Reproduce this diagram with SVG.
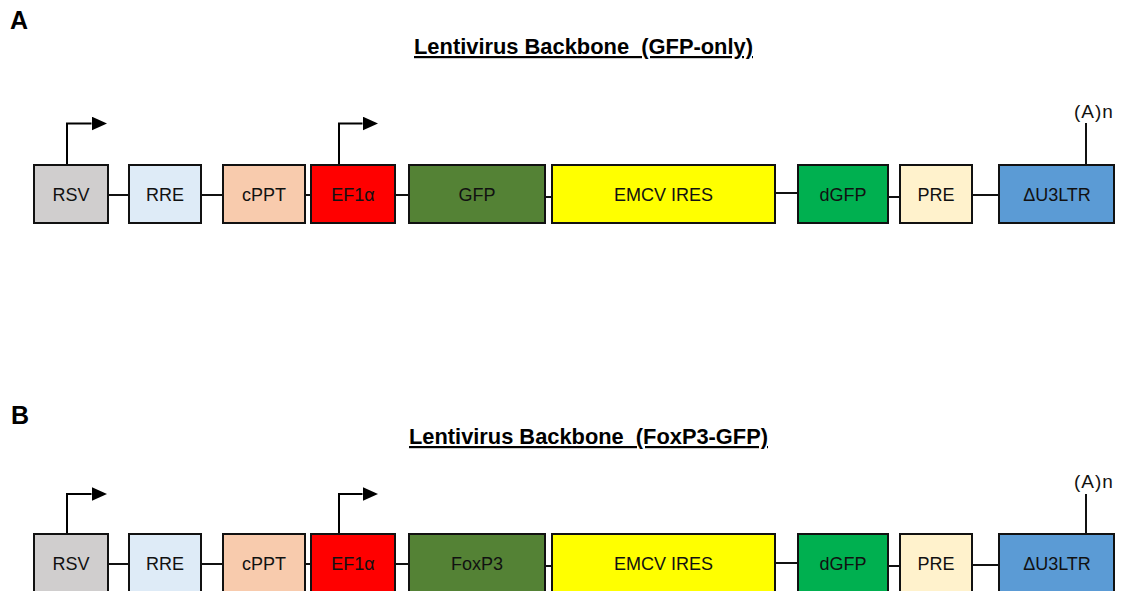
<svg xmlns="http://www.w3.org/2000/svg" width="1128" height="591" viewBox="0 0 1128 591">
<style>
.box{stroke:#111;stroke-width:2}
.lbl{font-family:"Liberation Sans",Arial,sans-serif;font-size:18px;fill:#111;text-anchor:middle}
.pa{font-family:"Liberation Sans",Arial,sans-serif;font-size:19px;fill:#111;text-anchor:middle;letter-spacing:1px}
.ttl{font-family:"Liberation Sans",Arial,sans-serif;font-size:22px;font-weight:bold;fill:#000;text-anchor:middle;text-decoration:underline;white-space:pre}
.pl{font-family:"Liberation Sans",Arial,sans-serif;font-size:25px;font-weight:bold;fill:#000}
.ln{stroke:#111;stroke-width:2;fill:none}
.arr{stroke:#000;stroke-width:2;fill:none;marker-end:url(#ah)}
</style>
<defs>
<marker id="ah" markerUnits="userSpaceOnUse" markerWidth="16" markerHeight="14" refX="0" refY="7" orient="auto">
<path d="M0,0 L15.5,7 L0,14 z" fill="#000"/>
</marker>
</defs>
<rect width="1128" height="591" fill="#fff"/>
<!-- Panel labels and titles -->
<text class="pl" x="10" y="29">A</text>
<text class="ttl" x="583.5" y="54" textLength="339" lengthAdjust="spacingAndGlyphs">Lentivirus Backbone  (GFP-only)</text>
<text class="pl" x="11" y="424">B</text>
<text class="ttl" x="588.5" y="444" textLength="359" lengthAdjust="spacingAndGlyphs">Lentivirus Backbone  (FoxP3-GFP)</text>

<g id="connectors">
<!-- Panel A backbone -->
<line class="ln" x1="108" y1="195" x2="129" y2="195"/>
<line class="ln" x1="201" y1="195" x2="223" y2="195"/>
<line class="ln" x1="305" y1="195" x2="311" y2="195"/>
<line class="ln" x1="395" y1="195" x2="409" y2="195"/>
<line class="ln" x1="545" y1="197" x2="552" y2="197"/>
<line class="ln" x1="775" y1="193" x2="798" y2="193"/>
<line class="ln" x1="888" y1="197" x2="900" y2="197"/>
<line class="ln" x1="972" y1="195" x2="999" y2="195"/>
<path class="arr" d="M67,165 V123.5 H91.5"/>
<path class="arr" d="M339,165 V123.5 H362.5"/>
<line class="ln" x1="1086" y1="165" x2="1086" y2="123"/>
<!-- Panel B backbone -->
<line class="ln" x1="108" y1="564" x2="129" y2="564"/>
<line class="ln" x1="201" y1="564" x2="223" y2="564"/>
<line class="ln" x1="305" y1="564" x2="311" y2="564"/>
<line class="ln" x1="395" y1="564" x2="409" y2="564"/>
<line class="ln" x1="545" y1="566" x2="552" y2="566"/>
<line class="ln" x1="775" y1="563" x2="798" y2="563"/>
<line class="ln" x1="888" y1="566" x2="900" y2="566"/>
<line class="ln" x1="972" y1="565" x2="999" y2="565"/>
<path class="arr" d="M67,534 V494 H91.5"/>
<path class="arr" d="M339,534 V494 H362.5"/>
<line class="ln" x1="1086" y1="534" x2="1086" y2="494"/>
</g>

<!-- Panel A nodes -->
<g id="a-rsv"><rect class="box" x="34" y="165" width="74" height="58" fill="#D0CECE"/><text class="lbl" x="71" y="201">RSV</text></g>
<g id="a-rre"><rect class="box" x="129" y="165" width="72" height="58" fill="#DEEBF7"/><text class="lbl" x="165" y="201">RRE</text></g>
<g id="a-cppt"><rect class="box" x="223" y="165" width="82" height="58" fill="#F8CBAD"/><text class="lbl" x="264" y="201">cPPT</text></g>
<g id="a-ef1a"><rect class="box" x="311" y="165" width="84" height="58" fill="#FF0000"/><text class="lbl" x="353" y="201">EF1α</text></g>
<g id="a-gfp"><rect class="box" x="409" y="165" width="136" height="58" fill="#548235"/><text class="lbl" x="477" y="201">GFP</text></g>
<g id="a-emcv"><rect class="box" x="552" y="165" width="223" height="58" fill="#FFFF00"/><text class="lbl" x="663.5" y="201">EMCV IRES</text></g>
<g id="a-dgfp"><rect class="box" x="798" y="165" width="90" height="58" fill="#00B050"/><text class="lbl" x="843" y="201">dGFP</text></g>
<g id="a-pre"><rect class="box" x="900" y="165" width="72" height="58" fill="#FFF2CC"/><text class="lbl" x="936" y="201">PRE</text></g>
<g id="a-ltr"><rect class="box" x="999" y="165" width="115" height="58" fill="#5B9BD5"/><text class="lbl" x="1057" y="201">ΔU3LTR</text></g>
<g id="a-polya"><text class="pa" x="1094" y="118">(A)n</text></g>

<!-- Panel B nodes -->
<g id="b-rsv"><rect class="box" x="34" y="534" width="74" height="58" fill="#D0CECE"/><text class="lbl" x="71" y="570">RSV</text></g>
<g id="b-rre"><rect class="box" x="129" y="534" width="72" height="58" fill="#DEEBF7"/><text class="lbl" x="165" y="570">RRE</text></g>
<g id="b-cppt"><rect class="box" x="223" y="534" width="82" height="58" fill="#F8CBAD"/><text class="lbl" x="264" y="570">cPPT</text></g>
<g id="b-ef1a"><rect class="box" x="311" y="534" width="84" height="58" fill="#FF0000"/><text class="lbl" x="353" y="570">EF1α</text></g>
<g id="b-foxp3"><rect class="box" x="409" y="534" width="136" height="58" fill="#548235"/><text class="lbl" x="477" y="570">FoxP3</text></g>
<g id="b-emcv"><rect class="box" x="552" y="534" width="223" height="58" fill="#FFFF00"/><text class="lbl" x="663.5" y="570">EMCV IRES</text></g>
<g id="b-dgfp"><rect class="box" x="798" y="534" width="90" height="58" fill="#00B050"/><text class="lbl" x="843" y="570">dGFP</text></g>
<g id="b-pre"><rect class="box" x="900" y="534" width="72" height="58" fill="#FFF2CC"/><text class="lbl" x="936" y="570">PRE</text></g>
<g id="b-ltr"><rect class="box" x="999" y="534" width="115" height="58" fill="#5B9BD5"/><text class="lbl" x="1057" y="570">ΔU3LTR</text></g>
<g id="b-polya"><text class="pa" x="1094" y="488">(A)n</text></g>
</svg>
